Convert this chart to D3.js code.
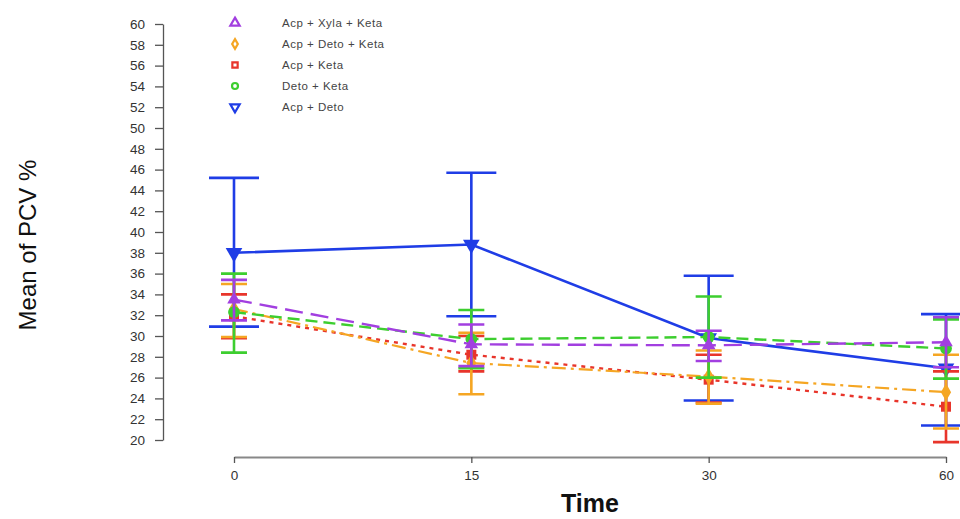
<!DOCTYPE html>
<html>
<head>
<meta charset="utf-8">
<script src="https://cdn.jsdelivr.net/npm/d3@7"></script>
<style>
  body { margin: 0; background: #fff; }
  svg { display: block; font-family: "Liberation Sans", Arial, sans-serif; }
</style>
</head>
<body>
<svg id="chart"></svg>
<script>
// data
const times = ["0", "15", "30", "60"];
const yTicks = d3.range(20, 61, 2);

const seriesNames = ["Acp + Xyla + Keta", "Acp + Deto + Keta", "Acp + Keta", "Deto + Keta", "Acp + Deto"];

const acpDetoMean = [38.0, 38.8, 29.8, 26.9];
const acpDetoHi = [45.2, 45.7, 35.8, 32.1];
const acpDetoLo = [30.9, 31.9, 23.8, 21.4];

const acpKetaMean = [31.9, 28.2, 25.8, 23.2];
const acpKetaHi = [34.0, 30.0, 28.2, 26.6];
const acpKetaLo = [29.8, 26.6, 23.6, 19.8];

const acpDetoKetaMean = [32.6, 27.4, 26.1, 24.6];
const acpDetoKetaHi = [35.0, 30.3, 28.6, 28.2];
const acpDetoKetaLo = [29.9, 24.4, 23.5, 21.1];

const detoKetaMean = [32.3, 29.7, 29.9, 28.8];
const detoKetaHi = [36.0, 32.5, 33.8, 31.6];
const detoKetaLo = [28.4, 26.9, 26.0, 25.9];

const acpXylaKetaMean = [33.5, 29.2, 29.1, 29.4];
const acpXylaKetaHi = [35.4, 31.1, 30.5, 31.8];
const acpXylaKetaLo = [31.5, 27.1, 27.6, 27.0];

(function () {
  const width = 960;
  const height = 519;

  const svg = d3.select("#chart").attr("width", width).attr("height", height);

  const x = d3.scalePoint().domain(times).range([234, 946]);
  const y = d3.scaleLinear().domain([20, 60]).range([440, 24]);

  // y axis
  const yAxis = svg
    .append("g")
    .attr("transform", "translate(163,0)")
    .call(d3.axisLeft(y).tickValues(yTicks).tickSize(8).tickSizeOuter(0).tickPadding(10));
  yAxis.select(".domain").attr("stroke", "#555").attr("stroke-width", 1.3);
  yAxis.selectAll(".tick line").attr("stroke", "#555").attr("stroke-width", 1.3);
  yAxis.selectAll("text").attr("font-size", "13.5px").attr("fill", "#333")
    .attr("font-family", "Liberation Sans, Arial, sans-serif");

  // x axis
  const xAxis = svg
    .append("g")
    .attr("transform", "translate(0,457)")
    .call(d3.axisBottom(x).tickSize(6).tickSizeOuter(0).tickPadding(7));
  xAxis.select(".domain").attr("stroke", "#888").attr("stroke-width", 2);
  xAxis.selectAll(".tick line").attr("stroke", "#555").attr("stroke-width", 1.3);
  xAxis.selectAll("text").attr("font-size", "13.5px").attr("fill", "#333")
    .attr("font-family", "Liberation Sans, Arial, sans-serif");

  svg
    .append("text")
    .attr("x", 590)
    .attr("y", 512)
    .attr("text-anchor", "middle")
    .attr("font-size", "25px")
    .attr("font-weight", "bold")
    .attr("fill", "#111")
    .text("Time");

  svg
    .append("text")
    .attr("transform", "translate(36,245) rotate(-90)")
    .attr("text-anchor", "middle")
    .attr("font-size", "24px")
    .attr("fill", "#111")
    .text("Mean of PCV %");

  const series = [
    { name: seriesNames[4], mean: acpDetoMean, hi: acpDetoHi, lo: acpDetoLo, color: "#1f3de6",
      dash: null, lw: 2.6, cap: 25, symbol: d3.symbolTriangle, size: 120, rot: 180 },
    { name: seriesNames[2], mean: acpKetaMean, hi: acpKetaHi, lo: acpKetaLo, color: "#e8352b",
      dash: "4,5", lw: 2.4, cap: 13, symbol: d3.symbolSquare, size: 100, rot: 0 },
    { name: seriesNames[1], mean: acpDetoKetaMean, hi: acpDetoKetaHi, lo: acpDetoKetaLo, color: "#f5a623",
      dash: "14,5,3,5", lw: 2.2, cap: 13, symbol: d3.symbolDiamond, size: 90, rot: 0 },
    { name: seriesNames[3], mean: detoKetaMean, hi: detoKetaHi, lo: detoKetaLo, color: "#3dce2f",
      dash: "12,6", lw: 2.4, cap: 13, symbol: d3.symbolCircle, size: 110, rot: 0 },
    { name: seriesNames[0], mean: acpXylaKetaMean, hi: acpXylaKetaHi, lo: acpXylaKetaLo, color: "#a23fe0",
      dash: "18,8", lw: 2.4, cap: 13, symbol: d3.symbolTriangle, size: 80, rot: 0 },
  ];

  const line = d3
    .line()
    .x((d) => x(d.t))
    .y((d) => y(d.v));

  series.forEach((s) => {
    const pts = times.map((t, i) => ({ t: t, v: s.mean[i], hi: s.hi[i], lo: s.lo[i] }));
    const g = svg.append("g");

    // error bars
    g.selectAll(".err")
      .data(pts)
      .enter()
      .append("path")
      .attr("fill", "none")
      .attr("stroke", s.color)
      .attr("stroke-width", 2.6)
      .attr("d", (d) => {
        const cx = x(d.t);
        return `M${cx},${y(d.hi)}V${y(d.lo)}` +
          `M${cx - s.cap},${y(d.hi)}H${cx + s.cap}` +
          `M${cx - s.cap},${y(d.lo)}H${cx + s.cap}`;
      });

    g.append("path")
      .datum(pts)
      .attr("fill", "none")
      .attr("stroke", s.color)
      .attr("stroke-width", s.lw)
      .attr("stroke-dasharray", s.dash)
      .attr("d", line);

    g.selectAll(".pt")
      .data(pts)
      .enter()
      .append("path")
      .attr("transform", (d) => `translate(${x(d.t)},${y(d.v)}) rotate(${s.rot})`)
      .attr("d", d3.symbol().type(s.symbol).size(s.size))
      .attr("fill", s.color);
  });

  // legend, same order as the reference
  const legendOrder = [4, 2, 1, 3, 0].map((i) => series[i]);
  const legend = svg
    .selectAll(".legend")
    .data(legendOrder)
    .enter()
    .append("g")
    .attr("transform", (d, i) => `translate(235, ${23 + i * 21})`);

  legend
    .append("path")
    .attr("transform", (d) => `rotate(${d.rot})`)
    .attr("d", (d) => d3.symbol().type(d.symbol).size(d.symbol === d3.symbolTriangle ? 38 : 28)())
    .attr("fill", "none")
    .attr("stroke", (d) => d.color)
    .attr("stroke-width", 2.2);

  legend
    .append("text")
    .attr("x", 47)
    .attr("y", 4)
    .attr("font-size", "11.5px")
    .attr("letter-spacing", "0.5px")
    .attr("fill", "#444")
    .text((d) => d.name);
})();
</script>
</body>
</html>
